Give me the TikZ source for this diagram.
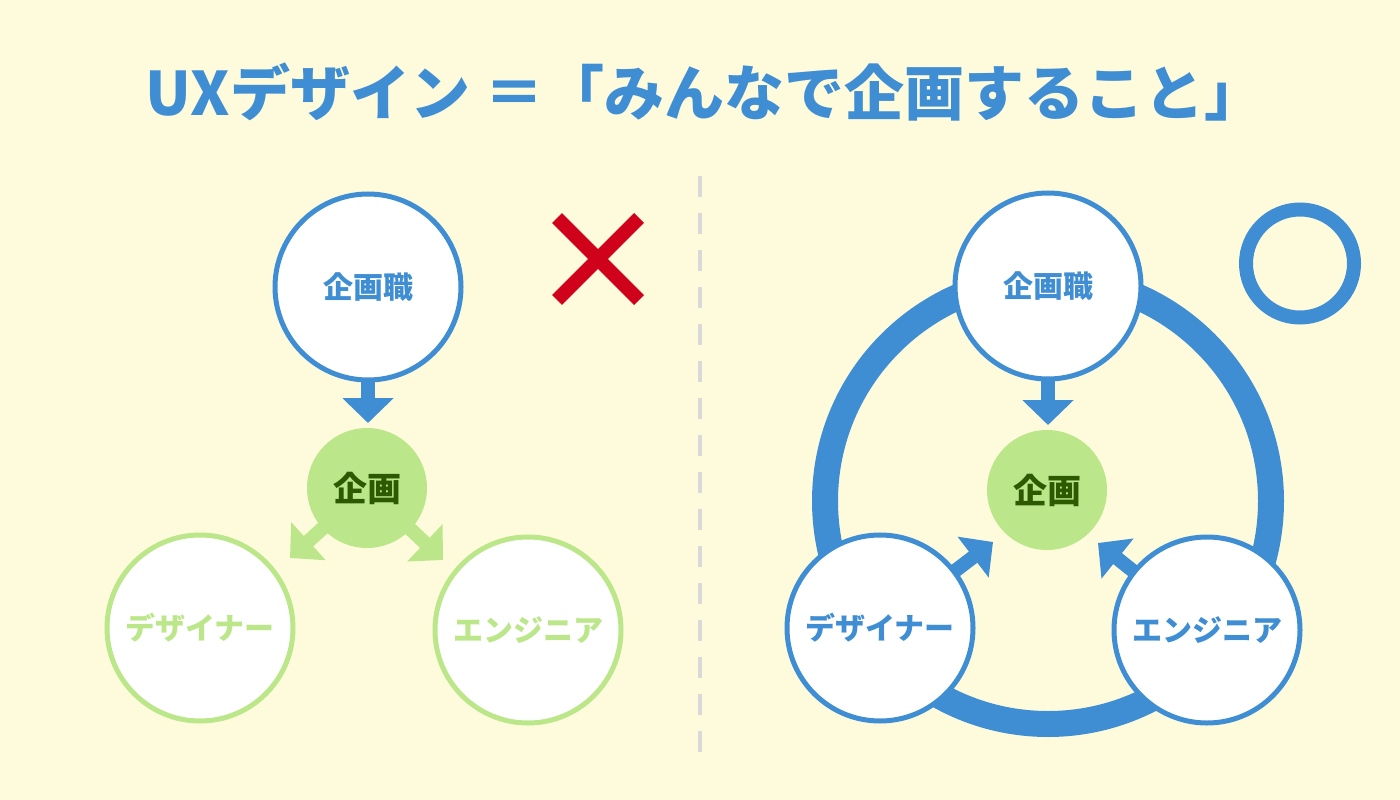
\documentclass[tikz,border=0pt]{standalone}
\usepackage{fontspec}
\setmainfont{Noto Sans CJK JP}
\usetikzlibrary{arrows.meta}
\definecolor{bgc}{HTML}{FEFBDC}
\definecolor{ublue}{HTML}{3F8ED3}
\definecolor{lgreen}{HTML}{BBE78A}
\definecolor{dgreen}{HTML}{2D5A00}
\definecolor{xred}{HTML}{D0021B}
\definecolor{dashgray}{HTML}{D9D9D9}
\pgfdeclarelayer{background}
\pgfsetlayers{background,main}
\begin{document}
\begin{tikzpicture}[x=1pt,y=-1pt,
  role/.style={circle, draw, line width=5pt, fill=white, minimum size=186pt, inner sep=0pt,
    font=\fontsize{30}{32}\selectfont\bfseries},
  roleblue/.style={role, draw=ublue, text=ublue},
  rolegreen/.style={role, draw=lgreen, text=lgreen},
  plan/.style={circle, fill=lgreen, minimum size=120pt, inner sep=0pt, text=dgreen,
    font=\fontsize{34}{36}\selectfont\bfseries},
  flow/.style={line width=14pt, -{Triangle[width=50pt,length=25pt]}},
  titletext/.style={text=ublue, font=\fontsize{60}{64}\selectfont\bfseries, inner sep=0pt},
]
\useasboundingbox (0,0) rectangle (1400,800);

% title
\node[titletext] (title) at (705,92) {UXデザイン ＝「みんなで企画すること」};

% left diagram
\node[roleblue] (Lplanner) at (368,287) {企画職};
\node[plan] (Lplan) at (367,488) {企画};
\node[rolegreen] (Ldesigner) at (200,628) {デザイナー};
\node[rolegreen] (Lengineer) at (528,630) {エンジニア};
\coordinate (LtipTop) at (368,423);
\coordinate (LtipD) at (290,558);
\coordinate (LtipE) at (443,560);

% right diagram
\node[roleblue] (Rplanner) at (1048,286) {企画職};
\node[plan] (Rplan) at (1047,490) {企画};
\node[roleblue] (Rdesigner) at (880,628) {デザイナー};
\node[roleblue] (Rengineer) at (1207,630) {エンジニア};
\coordinate (RtipTop) at (1048,425);
\coordinate (RtipD) at (993,542);
\coordinate (RtipE) at (1098,543);

\begin{pgfonlayer}{background}
  \fill[bgc] (0,0) rectangle (1400,800);
  % divider
  \draw[dashgray, line width=4pt, dash pattern=on 21pt off 16pt] (700,176) -- (700,765);
  % left arrows
  \draw[flow, ublue] (Lplanner.center) -- (LtipTop);
  \draw[flow, lgreen] (Lplan.center) -- (LtipD);
  \draw[flow, lgreen] (Lplan.center) -- (LtipE);
  % right ring and arrows
  \draw[ublue, line width=26pt] (1048,501) circle (223);
  \draw[flow, ublue] (Rplanner.center) -- (RtipTop);
  \draw[flow, ublue] (Rdesigner.center) -- (RtipD);
  \draw[flow, ublue] (Rengineer.center) -- (RtipE);
\end{pgfonlayer}

% cross mark
\draw[xred, line width=14pt] (557,218) -- (639,300);
\draw[xred, line width=14pt] (639,218) -- (557,300);
% circle mark
\draw[ublue, line width=14pt] (1300,263.5) circle (54);
\end{tikzpicture}
\end{document}
